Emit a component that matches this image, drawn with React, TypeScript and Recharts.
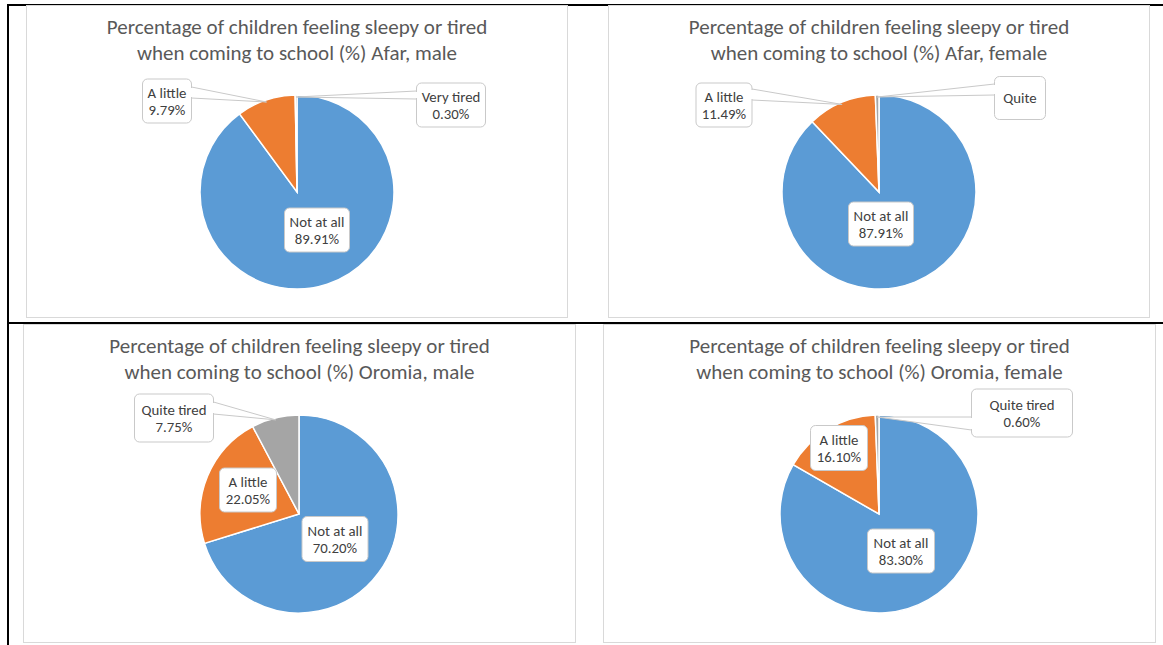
import { Pie, PieChart, Cell } from "recharts";

const titlePrefix = "Percentage of children feeling sleepy or tired";

const afarMaleTitle = "when coming to school (%) Afar, male";
const afarMaleNames = ["Not at all", "A little", "Very tired"];
const afarMaleValues = [89.91, 9.79, 0.3];

const afarFemaleTitle = "when coming to school (%) Afar, female";
const afarFemaleNames = ["Not at all", "A little", "Quite"];
const afarFemaleValues = [87.91, 11.49, 0.6];

const oromiaMaleTitle = "when coming to school (%) Oromia, male";
const oromiaMaleNames = ["Not at all", "A little", "Quite tired"];
const oromiaMaleValues = [70.2, 22.05, 7.75];

const oromiaFemaleTitle = "when coming to school (%) Oromia, female";
const oromiaFemaleNames = ["Not at all", "A little", "Quite tired"];
const oromiaFemaleValues = [83.3, 16.1, 0.6];

const sliceColors = ["#5B9BD5", "#ED7D31", "#A5A5A5"];

const FONT = "Calibri, Carlito, Lato, sans-serif";

interface LabelBox {
  dx: number;
  dy: number;
  w: number;
  h: number;
  pointer?: "left" | "right";
  base?: [number, number];
  nameOnly?: boolean;
}

interface PanelProps {
  left: number;
  top: number;
  width: number;
  height: number;
  cx: number;
  cy: number;
  radius: number;
  subtitle: string;
  names: string[];
  values: number[];
  labels: LabelBox[];
}

function makeLabel(labels: LabelBox[]) {
  return (props: any) => {
    const { cx, cy, midAngle, outerRadius, index, name, value } = props;
    const L = labels[index];
    if (!L) return null;
    const x0 = cx + L.dx - L.w / 2;
    const y0 = cy + L.dy - L.h / 2;
    const mx = cx + L.dx;
    const my = cy + L.dy;
    const rad = Math.PI / 180;
    const tipX = cx + (outerRadius - 2) * Math.cos(-midAngle * rad);
    const tipY = cy + (outerRadius - 2) * Math.sin(-midAngle * rad);
    const edgeX = L.pointer === "right" ? x0 + L.w : x0;
    const lines = L.nameOnly ? [name] : [name, `${value.toFixed(2)}%`];
    return (
      <g>
        {L.pointer && L.base && (
          <path
            d={`M${edgeX},${my + L.base[0]} L${tipX},${tipY} L${edgeX},${my + L.base[1]}`}
            fill="#fff"
            stroke="#C9C9C9"
            strokeWidth={1}
          />
        )}
        <rect
          x={x0}
          y={y0}
          width={L.w}
          height={L.h}
          rx={5}
          fill="#fff"
          stroke="#C9C9C9"
          strokeWidth={1}
        />
        {L.pointer && L.base && (
          <line
            x1={edgeX}
            x2={edgeX}
            y1={my + L.base[0] + 1}
            y2={my + L.base[1] - 1}
            stroke="#fff"
            strokeWidth={2}
          />
        )}
        {lines.map((t, i) => (
          <text
            key={i}
            x={mx}
            y={lines.length === 1 ? my : my + (i === 0 ? -8.5 : 9)}
            textAnchor="middle"
            dominantBaseline="central"
            fontFamily={FONT}
            fontSize={14.8}
            fill="#404040"
          >
            {t}
          </text>
        ))}
      </g>
    );
  };
}

function Panel(p: PanelProps) {
  const data = p.names.map((name, i) => ({ name, value: p.values[i] }));
  const w = p.width - 2;
  const h = p.height - 2;
  return (
    <div
      style={{
        position: "absolute",
        left: p.left,
        top: p.top,
        width: p.width,
        height: p.height,
        boxSizing: "border-box",
        border: "1px solid #D9D9D9",
        background: "#fff",
      }}
    >
      <div
        style={{
          position: "absolute",
          left: 0,
          top: 8,
          width: w,
          textAlign: "center",
          fontFamily: FONT,
          fontSize: 21,
          lineHeight: "26px",
          color: "#595959",
          whiteSpace: "nowrap",
        }}
      >
        <div>{titlePrefix}</div>
        <div>{p.subtitle}</div>
      </div>
      <div style={{ position: "absolute", left: 0, top: 0 }}>
        <PieChart width={w} height={h} margin={{ top: 0, right: 0, bottom: 0, left: 0 }}>
          <Pie
            data={data}
            dataKey="value"
            nameKey="name"
            cx={p.cx - p.left - 1}
            cy={p.cy - p.top - 1}
            outerRadius={p.radius}
            startAngle={90}
            endAngle={-270}
            stroke="#fff"
            strokeWidth={1.5}
            labelLine={false}
            label={makeLabel(p.labels)}
            isAnimationActive={false}
          >
            {data.map((d, i) => (
              <Cell key={d.name} fill={sliceColors[i]} />
            ))}
          </Pie>
        </PieChart>
      </div>
    </div>
  );
}

export default function App() {
  return (
    <div
      style={{
        position: "absolute",
        left: 0,
        top: 0,
        width: 1163,
        height: 645,
        background: "#fff",
        overflow: "hidden",
      }}
    >
      {/* table rules */}
      <div style={{ position: "absolute", left: 7, top: 4, width: 1156, height: 2, background: "#000" }} />
      <div style={{ position: "absolute", left: 7, top: 322, width: 1156, height: 2, background: "#000" }} />
      <div style={{ position: "absolute", left: 7, top: 4, width: 2, height: 641, background: "#000" }} />

      <Panel
        left={26}
        top={5}
        width={542}
        height={313}
        cx={297}
        cy={192}
        radius={97}
        subtitle={afarMaleTitle}
        names={afarMaleNames}
        values={afarMaleValues}
        labels={[
          { dx: 20, dy: 38, w: 65, h: 44 },
          { dx: -130, dy: -91, w: 49, h: 44, pointer: "right", base: [-14, -3] },
          { dx: 154, dy: -87, w: 69, h: 44, pointer: "left", base: [-14, -6] },
        ]}
      />
      <Panel
        left={608}
        top={5}
        width={542}
        height={313}
        cx={879}
        cy={192}
        radius={97}
        subtitle={afarFemaleTitle}
        names={afarFemaleNames}
        values={afarFemaleValues}
        labels={[
          { dx: 2, dy: 32, w: 65, h: 44 },
          { dx: -155, dy: -87, w: 56, h: 44, pointer: "right", base: [-16, -5] },
          { dx: 141, dy: -94, w: 51, h: 43, pointer: "left", base: [-14, -3], nameOnly: true },
        ]}
      />
      <Panel
        left={23}
        top={324}
        width={553}
        height={319}
        cx={299}
        cy={514}
        radius={99}
        subtitle={oromiaMaleTitle}
        names={oromiaMaleNames}
        values={oromiaMaleValues}
        labels={[
          { dx: 36, dy: 25, w: 66, h: 45 },
          { dx: -51, dy: -24, w: 57, h: 44 },
          { dx: -125, dy: -96, w: 79, h: 48, pointer: "right", base: [-16, -4] },
        ]}
      />
      <Panel
        left={603}
        top={324}
        width={553}
        height={319}
        cx={879}
        cy={514}
        radius={99}
        subtitle={oromiaFemaleTitle}
        names={oromiaFemaleNames}
        values={oromiaFemaleValues}
        labels={[
          { dx: 22, dy: 37, w: 67, h: 44 },
          { dx: -40, dy: -66, w: 57, h: 45 },
          { dx: 143, dy: -101, w: 101, h: 48, pointer: "left", base: [4, 17] },
        ]}
      />
    </div>
  );
}
